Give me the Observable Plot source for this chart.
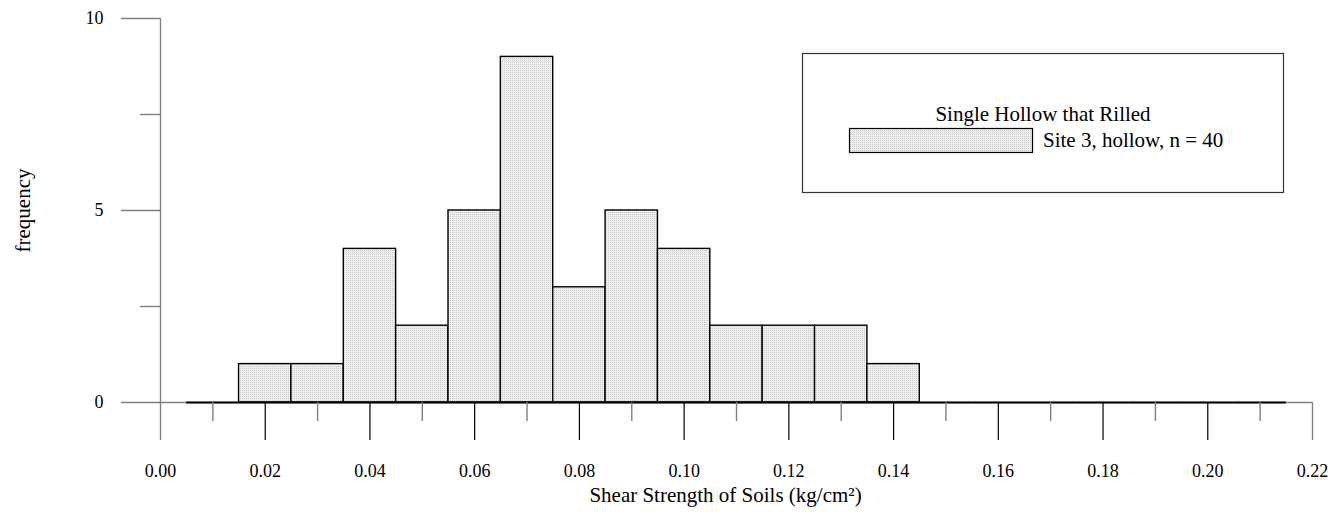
<!DOCTYPE html>
<html>
<head>
<meta charset="utf-8">
<script src="https://cdn.jsdelivr.net/npm/d3@7"></script>
<script src="https://cdn.jsdelivr.net/npm/@observablehq/plot@0.6"></script>
<style>
  html, body { margin: 0; padding: 0; background: #fff; }
  #wrap { position: relative; width: 1334px; height: 520px; }
  #legend { position: absolute; left: 0; top: 0; pointer-events: none; }
</style>
</head>
<body>
<div id="wrap">
  <svg id="legend" width="1334" height="520" xmlns="http://www.w3.org/2000/svg">
    <defs>
      <pattern id="dots" width="2" height="2" patternUnits="userSpaceOnUse">
        <rect width="2" height="2" fill="#efefef"></rect>
        <rect width="1" height="1" fill="#c9c9c9"></rect>
      </pattern>
    </defs>
  </svg>
</div>
<script>
// ---- data ----
const binLow  = [0.005, 0.015, 0.025, 0.035, 0.045, 0.055, 0.065, 0.075, 0.085, 0.095, 0.105,
                 0.115, 0.125, 0.135, 0.145, 0.155, 0.165, 0.175, 0.185, 0.195, 0.205];
const binHigh = [0.015, 0.025, 0.035, 0.045, 0.055, 0.065, 0.075, 0.085, 0.095, 0.105, 0.115,
                 0.125, 0.135, 0.145, 0.155, 0.165, 0.175, 0.185, 0.195, 0.205, 0.215];
const counts  = [0, 1, 1, 4, 2, 5, 9, 3, 5, 4, 2, 2, 2, 1, 0, 0, 0, 0, 0, 0, 0];

const xMajorTicks = [0.02, 0.04, 0.06, 0.08, 0.10, 0.12, 0.14, 0.16, 0.18, 0.20];
const xEndTicks   = [0.00, 0.22];
const xLabelTicks = [0.00, 0.02, 0.04, 0.06, 0.08, 0.10, 0.12, 0.14, 0.16, 0.18, 0.20, 0.22];
const xMinorTicks = [0.01, 0.03, 0.05, 0.07, 0.09, 0.11, 0.13, 0.15, 0.17, 0.19, 0.21];
const yMajorTicks = [0, 5, 10];
const yMinorTicks = [2.5, 7.5];

const xTitle = "Shear Strength of Soils (kg/cm\u00B2)";
const yTitle = "frequency";
const legendTitle = "Single Hollow that Rilled";
const seriesName = "Site 3, hollow, n = 40";

const bins = binLow.map((lo, i) => ({lo, hi: binHigh[i], count: counts[i]}));

const FONT = "'Liberation Serif', 'Times New Roman', serif";
const GRAY = "#808080";

const chart = Plot.plot({
  width: 1334,
  height: 520,
  marginLeft: 160,
  marginRight: 22,
  marginTop: 18,
  marginBottom: 118,
  style: {fontFamily: FONT, fontSize: "18px", background: "transparent", color: "black"},
  x: {domain: [0, 0.22]},
  y: {domain: [0, 10]},
  marks: [
    Plot.ruleY([0], {stroke: GRAY, strokeWidth: 1.4}),
    Plot.ruleX([0], {stroke: GRAY, strokeWidth: 1.4}),
    Plot.rectY(bins, {x1: "lo", x2: "hi", y: "count", fill: "url(#dots)", stroke: "black", strokeWidth: 1.4}),
    Plot.ruleY(bins, {x1: "lo", x2: "hi", y: 0, stroke: "black", strokeWidth: 2.2}),
    Plot.axisY({ticks: yMajorTicks, tickSize: 39, tickPadding: 18, stroke: GRAY, strokeWidth: 1.4, fill: "black", label: null, tickFormat: d3.format("d")}),
    Plot.axisY({ticks: yMinorTicks, tickSize: 20, stroke: GRAY, strokeWidth: 1.4, label: null, tickFormat: () => ""}),
    Plot.axisX({ticks: xLabelTicks, tickSize: 0, tickPadding: 62, fill: "black", label: null, tickFormat: d3.format(".2f")}),
    Plot.axisX({ticks: xMajorTicks, tickSize: 38, stroke: "black", strokeWidth: 1.2, label: null, tickFormat: () => ""}),
    Plot.axisX({ticks: xEndTicks, tickSize: 38, stroke: GRAY, strokeWidth: 1.4, label: null, tickFormat: () => ""}),
    Plot.axisX({ticks: xMinorTicks, tickSize: 19, stroke: GRAY, strokeWidth: 1.4, label: null, tickFormat: () => ""}),
    Plot.text([xTitle], {frameAnchor: "bottom", dx: -11, dy: 99, fontSize: 21}),
    Plot.text([yTitle], {frameAnchor: "left", textAnchor: "middle", dx: -137, rotate: -90, fontSize: 21})
  ]
});

const wrap = document.getElementById("wrap");
chart.style.position = "absolute";
chart.style.left = "0";
chart.style.top = "0";
wrap.insertBefore(chart, wrap.firstChild);

// ---- legend (overlay) ----
const lg = d3.select("#legend");
lg.append("rect").attr("x", 802.5).attr("y", 53.5).attr("width", 481).attr("height", 139)
  .attr("fill", "white").attr("stroke", "#333").attr("stroke-width", 1.2);
lg.append("text").attr("x", 1043).attr("y", 121).attr("text-anchor", "middle")
  .attr("font-family", FONT).attr("font-size", 21).text(legendTitle);
lg.append("rect").attr("x", 849.5).attr("y", 128.5).attr("width", 183).attr("height", 24)
  .attr("fill", "url(#dots)").attr("stroke", "black").attr("stroke-width", 1.2);
lg.append("text").attr("x", 1043).attr("y", 147)
  .attr("font-family", FONT).attr("font-size", 21).text(seriesName);
</script>
</body>
</html>
